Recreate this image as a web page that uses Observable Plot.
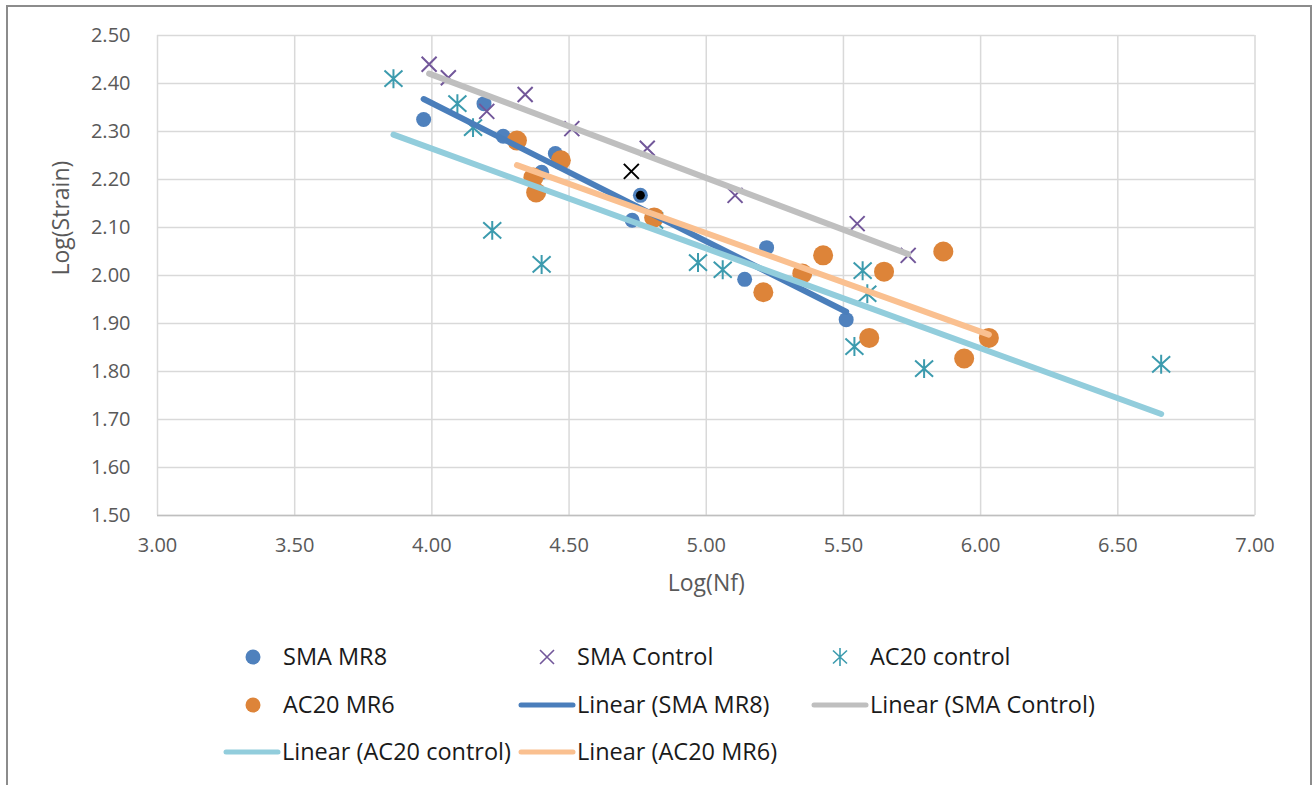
<!DOCTYPE html>
<html>
<head>
<meta charset="utf-8">
<script src="https://cdn.jsdelivr.net/npm/d3@7"></script>
<script src="https://cdn.jsdelivr.net/npm/@observablehq/plot@0.6"></script>
<style>
  html, body { margin: 0; padding: 0; background: #ffffff; overflow: hidden; }
  #wrap { position: relative; width: 1314px; height: 785px; font-family: "Open Sans", sans-serif; }
  #border { position: absolute; left: 6px; top: 5px; width: 1302px; height: 820px; border: 2px solid #8c8c8c; box-sizing: content-box; pointer-events: none; }
  #chart { position: absolute; left: 0; top: 0; }
  .lg { position: absolute; display: flex; align-items: center; font-size: 23.5px; color: #1a1a1a; white-space: nowrap; line-height: 1; }
  .lg svg { display: block; }
</style>
</head>
<body>
<div id="wrap">
  <div id="chart"></div>
  <div id="legend"></div>
  <div id="border"></div>
</div>
<script>
// ---- data ----
const xTicks = [3.0, 3.5, 4.0, 4.5, 5.0, 5.5, 6.0, 6.5, 7.0];
const yTicks = [1.5, 1.6, 1.7, 1.8, 1.9, 2.0, 2.1, 2.2, 2.3, 2.4, 2.5];

const smaMR8X = [3.97, 4.19, 4.26, 4.40, 4.45, 4.76, 4.73, 5.14, 5.22, 5.51];
const smaMR8Y = [2.325, 2.358, 2.290, 2.215, 2.254, 2.167, 2.115, 1.992, 2.058, 1.908];
const smaMR8Marked = [5];

const smaControlX = [3.99, 4.06, 4.20, 4.34, 4.51, 4.727, 4.785, 5.105, 5.55, 5.736];
const smaControlY = [2.440, 2.412, 2.342, 2.377, 2.306, 2.217, 2.265, 2.167, 2.108, 2.042];
const smaControlMarked = [5];

const ac20ControlX = [3.86, 4.093, 4.15, 4.22, 4.40, 4.81, 4.97, 5.06, 5.54, 5.57, 5.587, 5.794, 6.658];
const ac20ControlY = [2.410, 2.358, 2.308, 2.094, 2.023, 2.115, 2.027, 2.012, 1.852, 2.010, 1.962, 1.806, 1.815];

const ac20MR6X = [4.31, 4.37, 4.38, 4.47, 4.81, 5.208, 5.35, 5.426, 5.594, 5.648, 5.864, 5.94, 6.03];
const ac20MR6Y = [2.281, 2.204, 2.173, 2.240, 2.121, 1.965, 2.004, 2.042, 1.870, 2.008, 2.050, 1.827, 1.870];

const seriesNames = ["SMA MR8", "SMA Control", "AC20 control", "AC20 MR6"];
const trendNames = ["Linear (SMA MR8)", "Linear (SMA Control)", "Linear (AC20 control)", "Linear (AC20 MR6)"];

// ---- styles ----
const C = {
  blue: "#4f81bd", purple: "#72579a", teal: "#3c9bae", orange: "#dd8439",
  blueLine: "#4a7ebb", grayLine: "#bfbfbf", lightBlueLine: "#92cddc", peachLine: "#fac090"
};

const toRows = (xs, ys, marked = []) => xs.map((x, i) => ({x, y: ys[i], marked: marked.includes(i)}));
const smaMR8 = toRows(smaMR8X, smaMR8Y, smaMR8Marked);
const smaControl = toRows(smaControlX, smaControlY, smaControlMarked);
const ac20Control = toRows(ac20ControlX, ac20ControlY);
const ac20MR6 = toRows(ac20MR6X, ac20MR6Y);

const timesSymbol = {
  draw(ctx, size) {
    const r = Math.sqrt(size / Math.PI);
    ctx.moveTo(-r, -r); ctx.lineTo(r, r);
    ctx.moveTo(r, -r); ctx.lineTo(-r, r);
  }
};
const starSymbol = {
  draw(ctx, size) {
    const r = Math.sqrt(size / Math.PI);
    ctx.moveTo(-r, -r * 0.9); ctx.lineTo(r, r * 0.9);
    ctx.moveTo(r, -r * 0.9); ctx.lineTo(-r, r * 0.9);
    ctx.moveTo(0, -r * 1.05); ctx.lineTo(0, r * 1.05);
  }
};

const fmt = d => d.toFixed(2);

const chart = Plot.plot({
  width: 1314,
  height: 600,
  marginLeft: 157,
  marginRight: 59.5,
  marginTop: 35,
  marginBottom: 85,
  x: {domain: [3, 7]},
  y: {domain: [1.5, 2.5]},
  style: {fontFamily: "'Open Sans', sans-serif", background: "transparent", overflow: "visible"},
  marks: [
    Plot.gridX(xTicks, {stroke: "#d9d9d9", strokeOpacity: 1, strokeWidth: 1.5}),
    Plot.gridY(yTicks, {stroke: "#d9d9d9", strokeOpacity: 1, strokeWidth: 1.5}),
    Plot.ruleY([1.5], {stroke: "#bfbfbf", strokeWidth: 1.5}),
    Plot.axisX(xTicks, {tickSize: 0, tickPadding: 22, tickFormat: fmt, fontSize: 20, fill: "#595959", label: null}),
    Plot.axisY(yTicks, {tickSize: 0, tickPadding: 27, tickFormat: fmt, fontSize: 20, fill: "#595959", label: null}),
    Plot.text(["Log(Nf)"], {frameAnchor: "bottom", dy: 75, fontSize: 23, fill: "#595959"}),
    Plot.text(["Log(Strain)"], {frameAnchor: "left", dx: -96, rotate: -90, fontSize: 23, fill: "#595959"}),
    // markers
    Plot.dot(smaMR8, {x: "x", y: "y", r: 7.5, fill: C.blue, stroke: "none"}),
    Plot.dot(smaMR8.filter(d => d.marked), {x: "x", y: "y", r: 4.5, fill: "#000000", stroke: "none"}),
    Plot.dot(smaControl.filter(d => !d.marked), {x: "x", y: "y", r: 7.5, symbol: timesSymbol, stroke: C.purple, strokeWidth: 2, fill: "none"}),
    Plot.dot(smaControl.filter(d => d.marked), {x: "x", y: "y", r: 7.5, symbol: timesSymbol, stroke: "#000000", strokeWidth: 2, fill: "none"}),
    Plot.dot(ac20Control, {x: "x", y: "y", r: 9, symbol: starSymbol, stroke: C.teal, strokeWidth: 2, fill: "none"}),
    Plot.dot(ac20MR6, {x: "x", y: "y", r: 10, fill: C.orange, stroke: "none"}),
    // trendlines
    Plot.linearRegressionY(smaMR8, {x: "x", y: "y", stroke: C.blueLine, strokeWidth: 6, strokeLinecap: "round", ci: 0}),
    Plot.linearRegressionY(smaControl, {x: "x", y: "y", stroke: C.grayLine, strokeWidth: 6, strokeLinecap: "round", ci: 0}),
    Plot.linearRegressionY(ac20Control, {x: "x", y: "y", stroke: C.lightBlueLine, strokeWidth: 6, strokeLinecap: "round", ci: 0}),
    Plot.linearRegressionY(ac20MR6, {x: "x", y: "y", stroke: C.peachLine, strokeWidth: 6, strokeLinecap: "round", ci: 0})
  ]
});
document.getElementById("chart").appendChild(chart);

// ---- legend ----
const legend = document.getElementById("legend");
function marker(kind, color) {
  const s = d3.create("svg").attr("width", kind === "line" ? 58 : 20).attr("height", 20);
  if (kind === "dot") s.append("circle").attr("cx", 10).attr("cy", 10).attr("r", 7.5).attr("fill", color);
  if (kind === "times") s.append("path").attr("d", "M3,3L17,17M17,3L3,17").attr("stroke", color).attr("stroke-width", 1.6).attr("fill", "none");
  if (kind === "star") s.append("path").attr("d", "M3,3.5L17,16.5M17,3.5L3,16.5M10,1V19").attr("stroke", color).attr("stroke-width", 1.6).attr("fill", "none");
  if (kind === "line") s.append("line").attr("x1", 3).attr("x2", 55).attr("y1", 10).attr("y2", 10).attr("stroke", color).attr("stroke-width", 5).attr("stroke-linecap", "round");
  return s.node();
}
const legendItems = [
  {label: seriesNames[0], kind: "dot", color: C.blue, left: 243, cy: 657},
  {label: seriesNames[1], kind: "times", color: C.purple, left: 537, cy: 657},
  {label: seriesNames[2], kind: "star", color: C.teal, left: 830, cy: 657},
  {label: seriesNames[3], kind: "dot", color: C.orange, left: 243, cy: 705},
  {label: trendNames[0], kind: "line", color: C.blueLine, left: 518, cy: 705},
  {label: trendNames[1], kind: "line", color: C.grayLine, left: 811, cy: 705},
  {label: trendNames[2], kind: "line", color: C.lightBlueLine, left: 223, cy: 752},
  {label: trendNames[3], kind: "line", color: C.peachLine, left: 518, cy: 752}
];
for (const it of legendItems) {
  const div = document.createElement("div");
  div.className = "lg";
  div.style.left = it.left + "px";
  div.style.top = (it.cy - 16) + "px";
  div.style.height = "32px";
  div.appendChild(marker(it.kind, it.color));
  const span = document.createElement("span");
  span.textContent = it.label;
  span.style.marginLeft = it.kind === "line" ? "1px" : "20px";
  div.appendChild(span);
  legend.appendChild(div);
}
</script>
</body>
</html>
